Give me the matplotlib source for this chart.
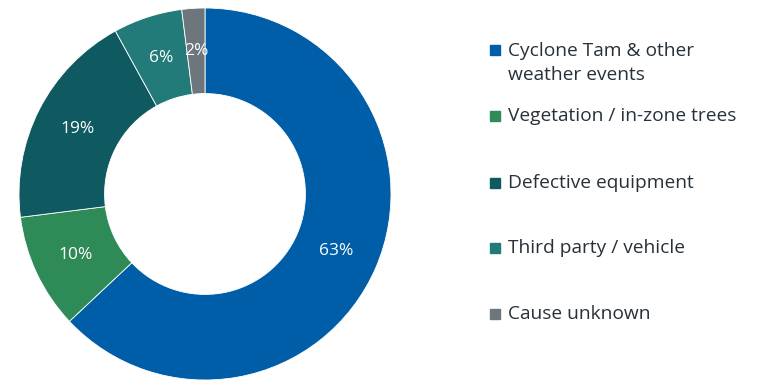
import matplotlib
matplotlib.use('Agg')
import matplotlib.pyplot as plt
from matplotlib.patches import Rectangle

# Data
causes = ["Cyclone Tam & other\nweather events", "Vegetation / in-zone trees",
          "Defective equipment", "Third party / vehicle", "Cause unknown"]
shares = [63, 10, 19, 6, 2]
colors = ["#005DA8", "#2E8A57", "#0F5A60", "#237B79", "#6C767C"]
# vertical centres of the legend rows (pixels from top)
legend_px = [63, 116, 183, 248, 314]

plt.rcParams['font.family'] = ['Open Sans', 'DejaVu Sans']

fig = plt.figure(figsize=(7.58, 3.8), dpi=100)
ax = fig.add_axes([19 / 758, 0.0, 372 / 758, 372 / 380])

wedges, texts, autotexts = ax.pie(
    shares, colors=colors, startangle=90, counterclock=False,
    autopct='%d%%', pctdistance=0.77,
    wedgeprops=dict(width=0.46, edgecolor='white', linewidth=0.6),
    textprops=dict(color='white', fontsize=12.5))
ax.set_xlim(-1, 1)
ax.set_ylim(-1, 1)
ax.set_aspect('equal')

# legend drawn by hand to match spacing
for name, col, ypx in zip(causes, colors, legend_px):
    y = 1 - ypx / 380
    first = y + (27 / 380) / 2 if "\n" in name else y
    fig.patches.append(Rectangle((490 / 758, first - 5 / 380), 10 / 758, 10 / 380,
                                 transform=fig.transFigure, color=col))
    fig.text(508 / 758, y, name, ha='left', va='center',
             fontsize=13.8, color='#26313a', linespacing=1.42)

fig.savefig("out.png", dpi=100)
